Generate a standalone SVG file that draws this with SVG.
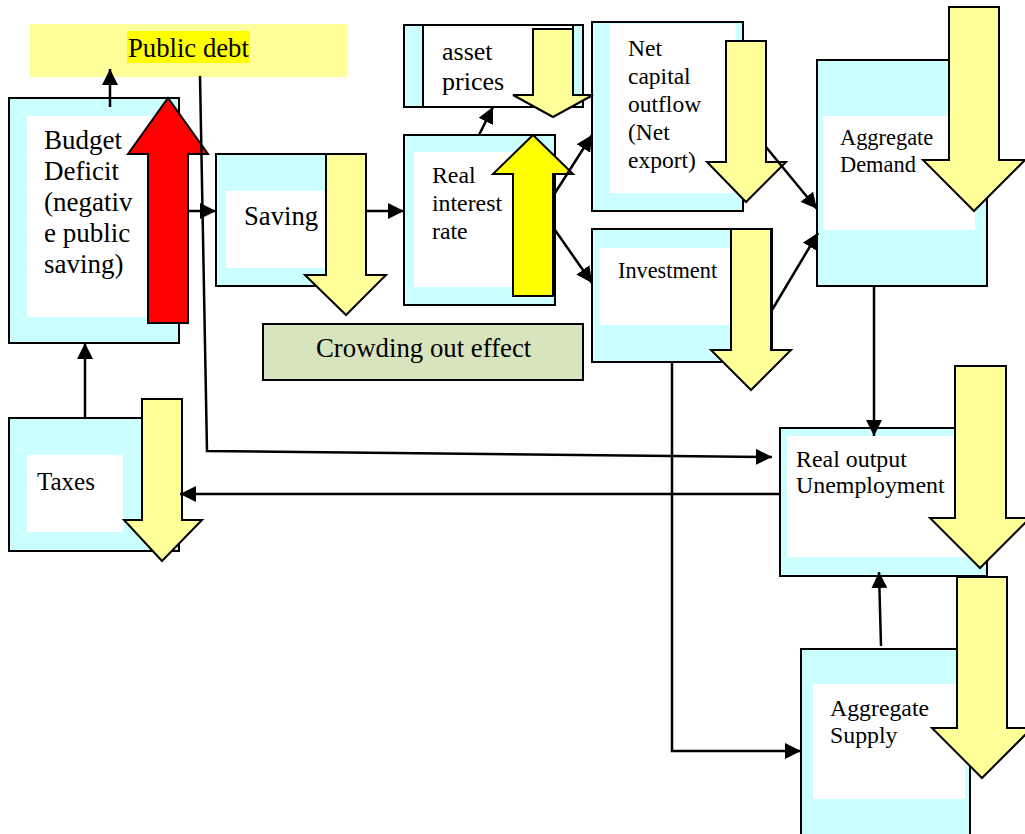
<svg xmlns="http://www.w3.org/2000/svg" width="1025" height="834" viewBox="0 0 1025 834">
<defs>
<style>
.box{fill:#ccffff;stroke:#000;stroke-width:2}
.inner{fill:#fff;stroke:none}
.down{fill:#ffff99;stroke:#000;stroke-width:2;stroke-linejoin:miter}
.t{font-family:'Liberation Serif','DejaVu Serif',serif;fill:#000}
.c{fill:none;stroke:#000;stroke-width:2.5}
</style>
<marker id="ah" markerUnits="userSpaceOnUse" markerWidth="16" markerHeight="16" refX="16" refY="8" orient="auto" viewBox="0 0 16 16">
<path d="M0,0 L16,8 L0,16 Z" fill="#000"/>
</marker>
</defs>
<rect width="1025" height="834" fill="#fff"/>

<g id="public-debt">
<rect x="30" y="24" width="317" height="53" fill="#ffff99"/>
<rect x="127" y="31" width="123" height="32" fill="#ffff00"/>
<text class="t" font-family="Liberation Serif, serif" x="128" y="57" font-size="26.7">Public debt</text>
</g>

<g id="budget-deficit">
<rect class="box" x="9" y="98" width="170" height="245"/>
<rect class="inner" x="27" y="116" width="140" height="201"/>
<text class="t" font-family="Liberation Serif, serif" font-size="27"><tspan x="44" y="149">Budget</tspan><tspan x="44" y="180">Deficit</tspan><tspan x="44" y="211">(negativ</tspan><tspan x="44" y="242">e public</tspan><tspan x="44" y="273">saving)</tspan></text>
<path d="M148,323 L148,154 L128,154 L168,98 L208,154 L188,154 L188,323 Z" fill="#ff0000" stroke="#000" stroke-width="2"/>
</g>

<g id="taxes">
<rect class="box" x="9" y="418" width="170" height="133"/>
<rect class="inner" x="27" y="455" width="96" height="77"/>
<text class="t" font-family="Liberation Serif, serif" x="37" y="490" font-size="25">Taxes</text>
<path class="down" d="M142,399 L182,399 L182,520 L202,520 L162,561 L124,520 L142,520 Z"/>
</g>

<g id="saving">
<rect class="box" x="216" y="154" width="150" height="132"/>
<rect class="inner" x="226" y="191" width="110" height="77"/>
<text class="t" font-family="Liberation Serif, serif" x="244" y="225" font-size="26.7">Saving</text>
<path class="down" d="M326,154 L366,154 L366,275 L386,275 L346,315 L305,275 L326,275 Z"/>
</g>

<g id="crowding-out">
<rect x="263" y="324" width="320" height="56" fill="#d7e4bd" stroke="#000" stroke-width="2"/>
<text class="t" font-family="Liberation Serif, serif" x="316" y="357" font-size="26.8">Crowding out effect</text>
</g>

<g id="real-interest-rate">
<rect class="box" x="404" y="135" width="151" height="170"/>
<rect class="inner" x="414" y="152" width="130" height="135"/>
<text class="t" font-family="Liberation Serif, serif" font-size="23.8"><tspan x="432" y="183">Real</tspan><tspan x="432" y="211">interest</tspan><tspan x="432" y="239">rate</tspan></text>
<path d="M513,296 L513,174 L493,174 L533,135 L573,174 L553,174 L553,296 Z" fill="#ffff00" stroke="#000" stroke-width="2"/>
</g>

<g id="net-capital-outflow">
<rect class="box" x="592" y="22" width="151" height="189"/>
<rect class="inner" x="610" y="24" width="126" height="169"/>
<text class="t" font-family="Liberation Serif, serif" font-size="23.5"><tspan x="628" y="56">Net</tspan><tspan x="628" y="84">capital</tspan><tspan x="628" y="112">outflow</tspan><tspan x="628" y="140">(Net</tspan><tspan x="628" y="168">export)</tspan></text>
<path class="down" d="M726,41 L766,41 L766,162 L786,162 L746,202 L707,162 L726,162 Z"/>
</g>

<g id="asset-prices">
<rect class="box" x="404" y="25" width="179" height="82"/>
<rect x="423" y="25" width="150" height="82" fill="#fff" stroke="#000" stroke-width="2"/>
<text class="t" font-family="Liberation Serif, serif" font-size="26"><tspan x="442" y="60">asset</tspan><tspan x="442" y="90">prices</tspan></text>
<path class="down" d="M533,29 L573,29 L573,95 L593,95 L553,117 L513,95 L533,95 Z"/>
</g>

<g id="investment">
<rect class="box" x="592" y="229" width="180" height="133"/>
<rect class="inner" x="600" y="248" width="140" height="77"/>
<text class="t" font-family="Liberation Serif, serif" x="618" y="278" font-size="22.3">Investment</text>
<path class="down" d="M731,229 L771,229 L771,350 L791,350 L751,390 L711,350 L731,350 Z"/>
</g>

<g id="aggregate-demand">
<rect class="box" x="817" y="60" width="170" height="226"/>
<rect class="inner" x="823" y="116" width="152" height="114"/>
<text class="t" font-family="Liberation Serif, serif" font-size="22.4"><tspan x="840" y="145">Aggregate</tspan><tspan x="840" y="172">Demand</tspan></text>
<path class="down" d="M949,7 L999,7 L999,160 L1025,160 L974,211 L923,160 L949,160 Z"/>
</g>

<g id="real-output">
<rect class="box" x="780" y="428" width="207" height="148"/>
<rect class="inner" x="787" y="436" width="180" height="121"/>
<text class="t" font-family="Liberation Serif, serif" font-size="23.9"><tspan x="796" y="467">Real output</tspan><tspan x="796" y="493">Unemployment</tspan></text>
<path class="down" d="M955,366 L1006,366 L1006,518 L1030,518 L980,568 L930,518 L955,518 Z"/>
</g>

<g id="aggregate-supply">
<rect class="box" x="801" y="649" width="169" height="190"/>
<rect class="inner" x="813" y="684" width="152" height="115"/>
<text class="t" font-family="Liberation Serif, serif" font-size="23.8"><tspan x="830" y="716">Aggregate</tspan><tspan x="830" y="743">Supply</tspan></text>
<path class="down" d="M957,577 L1007,577 L1007,728 L1032,728 L982,778 L932,728 L957,728 Z"/>
</g>

<g id="connectors">
<line class="c" x1="110" y1="107" x2="110" y2="69" marker-end="url(#ah)"/>
<line class="c" x1="188" y1="211" x2="216" y2="211" marker-end="url(#ah)"/>
<line class="c" x1="366" y1="211" x2="404" y2="211" marker-end="url(#ah)"/>
<line class="c" x1="479" y1="135" x2="493" y2="107" marker-end="url(#ah)"/>
<line class="c" x1="555" y1="193" x2="592" y2="135" marker-end="url(#ah)"/>
<line class="c" x1="555" y1="230" x2="592" y2="283" marker-end="url(#ah)"/>
<line class="c" x1="766" y1="147" x2="817" y2="209" marker-end="url(#ah)"/>
<line class="c" x1="772" y1="310" x2="818" y2="233" marker-end="url(#ah)"/>
<line class="c" x1="874" y1="286" x2="874" y2="436" marker-end="url(#ah)"/>
<line class="c" x1="881" y1="646" x2="879" y2="572" marker-end="url(#ah)"/>
<line class="c" x1="780" y1="494" x2="180" y2="494" marker-end="url(#ah)"/>
<line class="c" x1="85" y1="418" x2="85" y2="343" marker-end="url(#ah)"/>
<polyline class="c" points="200,76 207,451 772,457" marker-end="url(#ah)"/>
<polyline class="c" points="672,362 672,751 801,751" marker-end="url(#ah)"/>
</g>
</svg>
